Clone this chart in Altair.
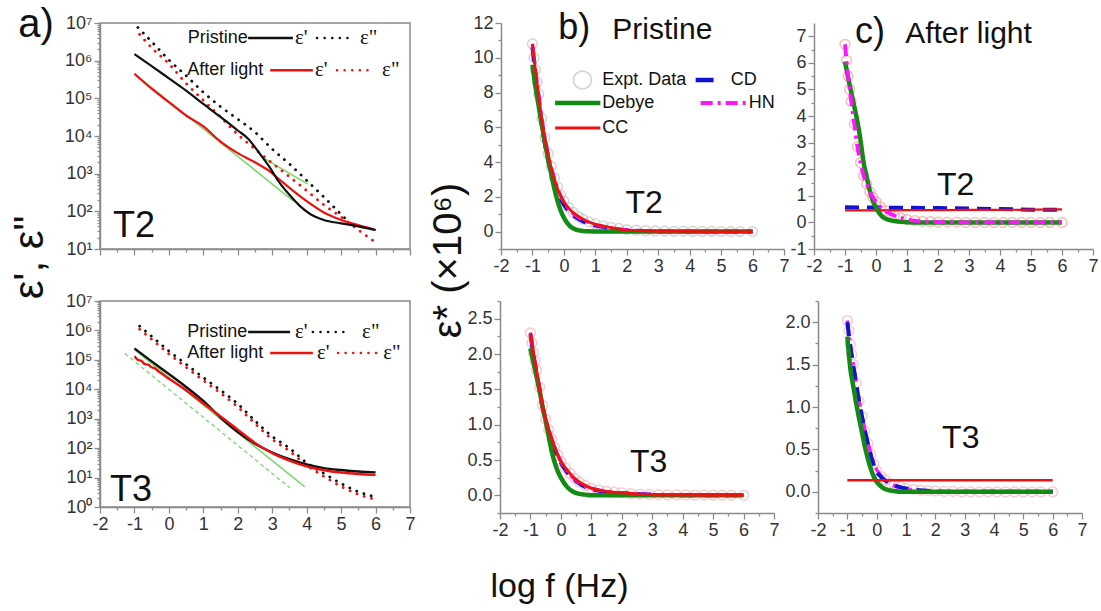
import altair as alt
import pandas as pd

FONT = "Liberation Sans"
SERIF = "Liberation Serif"

# ---------------- data: panel a (T2, top) ----------------
A2_E1_PRIS_X = [-1.0, -0.5, 0.0, 0.5, 1.0, 1.5, 2.0, 2.3, 2.6, 2.9, 3.2, 3.5, 3.8, 4.1, 4.5, 5.0, 5.5, 6.0]
A2_E1_PRIS = [1.5e6, 7.2e5, 3.4e5, 1.6e5, 7.1e4, 3.2e4, 1.4e4, 8.5e3, 3.8e3, 1.6e3, 600, 275, 140, 85, 59, 48, 40, 32]
A2_E1_LIGHT_X = [-1.0, -0.5, 0.0, 0.5, 1.0, 1.5, 2.0, 2.5, 2.9, 3.2, 3.6, 4.0, 4.5, 5.0, 5.5, 6.0]
A2_E1_LIGHT = [4.5e5, 1.8e5, 7.9e4, 3.5e4, 1.8e4, 7.1e3, 3.5e3, 2.0e3, 1.2e3, 710, 355, 186, 93, 59, 43, 32]
A2_E2_PRIS_X = [-0.9, -0.5, 0.0, 0.5, 1.0, 1.5, 2.0, 2.5, 3.0, 3.5, 4.0, 4.5, 5.0, 5.2]
A2_E2_PRIS = [7.6e6, 3.2e6, 1.05e6, 4.0e5, 1.45e5, 6.0e4, 2.8e4, 1.26e4, 4.5e3, 1.8e3, 660, 240, 83, 55]
A2_E2_LIGHT_X = [-0.85, -0.5, 0.0, 0.5, 1.0, 1.5, 2.0, 2.5, 3.0, 3.5, 4.0, 4.5, 5.0, 5.5, 6.0]
A2_E2_LIGHT = [5.0e6, 2.2e6, 8.3e5, 2.5e5, 8.9e4, 3.2e4, 1.1e4, 4.5e3, 1.9e3, 830, 355, 148, 71, 32, 15]
A2_FIT1_X = [-1.0, 3.62]
A2_FIT1 = [4.5e5, 186]
A2_FIT2_X = [2.75, 4.03]
A2_FIT2 = [2.6e3, 525]

# ---------------- data: panel a (T3, bottom) ----------------
A3_E1_PRIS_X = [-1.0, -0.5, 0.0, 0.5, 1.0, 1.5, 2.0, 2.5, 3.0, 3.5, 4.0, 4.5, 5.0, 5.5, 6.0]
A3_E1_PRIS = [2.45e5, 8.9e4, 3.3e4, 1.2e4, 4.0e3, 1.1e3, 355, 141, 71, 42, 28, 21, 18, 16, 15]
A3_E1_LIGHT_X = [-1.0, -0.9, -0.8, -0.7, -0.6, -0.5, -0.4, -0.3, -0.2, -0.1, 0.0, 0.5, 1.0, 1.5,
                 2.0, 2.5, 3.0, 3.5, 4.0, 4.5, 5.0, 5.5, 6.0]
A3_E1_LIGHT = [1.32e5, 1.0e5, 9.3e4, 7.2e4, 6.9e4, 5.6e4, 5.1e4, 4.0e4, 3.4e4, 2.75e4, 2.3e4, 9.3e3,
               3.3e3, 1.2e3, 427, 151, 68, 38, 24, 17.8, 14.8, 13.2, 12.3]
A3_E2_X = [-0.85, -0.5, 0.0, 0.5, 1.0, 1.5, 2.0, 2.5, 3.0, 3.5, 4.0, 4.5, 5.0, 5.5, 6.0]
A3_E2_PRIS = [1.4e6, 6.3e5, 2.0e5, 7.1e4, 2.5e4, 9.3e3, 3.2e3, 850, 250, 100, 32, 13.8, 6.3, 3.3, 2.2]
A3_E2_LIGHT = [1.1e6, 5.0e5, 1.6e5, 5.6e4, 2.0e4, 7.4e3, 2.5e3, 680, 200, 80, 26, 11, 5.0, 2.7, 1.8]
A3_FIT1_X = [-1.0, 3.94]
A3_FIT1 = [2.2e5, 4.9]
A3_FIT2_X = [-1.28, 3.51]
A3_FIT2 = [1.66e5, 4.5]

# ---------------- data: panels b, c (eps* x 10^6) ----------------
FIT_X = [-1.0, -0.9, -0.8, -0.7, -0.6, -0.5, -0.4, -0.3, -0.2, -0.1, 0.0, 0.2, 0.4, 0.6, 0.8, 1.0,
         1.3, 1.6, 2.0, 2.5, 3.0, 4.0, 5.0, 6.0]
DATA_X = [-1.0, -0.95, -0.9, -0.85, -0.8, -0.7, -0.6, -0.5, -0.4, -0.3, -0.2, -0.1, 0.0, 0.15, 0.3,
          0.45, 0.6, 0.8, 1.0, 1.25, 1.5, 1.75, 2.0, 2.3, 2.6, 2.9, 3.2, 3.5, 3.8, 4.1, 4.4, 4.7,
          5.0, 5.3, 5.6, 6.0]

# b) Pristine, T2
B2_DATA = [10.8, 10.0, 9.3, 8.6, 7.9, 6.5, 5.4, 4.5, 3.75, 3.1, 2.55, 2.1, 1.75, 1.38, 1.1, 0.88,
           0.72, 0.56, 0.44, 0.33, 0.25, 0.18, 0.12, 0.08, 0.05, 0.04, 0.03, 0.02, 0.02, 0.01,
           0.01, 0.01, 0.0, 0.0, 0.0, 0.0]
B2_CC = [10.8, 9.2, 7.8, 6.4, 5.3, 4.4, 3.65, 3.0, 2.45, 2.05, 1.72, 1.25, 0.95, 0.72, 0.55, 0.42,
         0.3, 0.2, 0.08, 0.04, 0.02, 0.01, 0.0, 0.0]
B2_HN = [10.8, 9.3, 7.9, 6.5, 5.4, 4.5, 3.7, 3.05, 2.5, 2.05, 1.7, 1.2, 0.9, 0.68, 0.52, 0.4,
         0.28, 0.18, 0.09, 0.04, 0.02, 0.01, 0.0, 0.0]
B2_CD = [10.6, 9.0, 7.5, 6.1, 5.0, 4.1, 3.35, 2.75, 2.25, 1.85, 1.55, 1.1, 0.8, 0.6, 0.45, 0.35,
         0.25, 0.16, 0.08, 0.03, 0.01, 0.0, 0.0, 0.0]
B2_DEBYE = [9.6, 8.3, 7.2, 6.1, 5.1, 4.15, 3.3, 2.45, 1.75, 1.2, 0.8, 0.3, 0.1, 0.04, 0.02, 0.01,
            0.0, 0.0, 0.0, 0.0, 0.0, 0.0, 0.0, 0.0]

# b) Pristine, T3
B3_DATA = [2.3, 2.16, 2.02, 1.9, 1.77, 1.53, 1.27, 1.08, 0.93, 0.8, 0.68, 0.57, 0.48, 0.39, 0.31,
           0.24, 0.19, 0.14, 0.1, 0.075, 0.055, 0.045, 0.035, 0.025, 0.018, 0.012, 0.01, 0.008,
           0.006, 0.005, 0.004, 0.003, 0.002, 0.002, 0.001, 0.001]
B3_CC = [2.3, 2.02, 1.77, 1.53, 1.26, 1.08, 0.93, 0.8, 0.68, 0.57, 0.48, 0.36, 0.26, 0.19, 0.14,
         0.1, 0.07, 0.05, 0.035, 0.02, 0.01, 0.005, 0.0, 0.0]
B3_HN = [2.3, 2.0, 1.75, 1.52, 1.27, 1.09, 0.94, 0.8, 0.68, 0.57, 0.48, 0.35, 0.25, 0.18, 0.13,
         0.1, 0.07, 0.05, 0.03, 0.02, 0.01, 0.0, 0.0, 0.0]
B3_CD = [2.28, 1.98, 1.72, 1.48, 1.24, 1.06, 0.9, 0.77, 0.65, 0.55, 0.46, 0.33, 0.24, 0.17, 0.12,
         0.09, 0.06, 0.04, 0.03, 0.02, 0.01, 0.0, 0.0, 0.0]
B3_DEBYE = [2.08, 1.88, 1.68, 1.48, 1.25, 1.05, 0.84, 0.62, 0.46, 0.34, 0.25, 0.12, 0.05, 0.02,
            0.01, 0.0, 0.0, 0.0, 0.0, 0.0, 0.0, 0.0, 0.0, 0.0]

# c) After light, T2
C2_DATA = [6.7, 6.1, 5.5, 5.0, 4.55, 3.7, 2.85, 2.25, 1.75, 1.45, 1.15, 0.95, 0.78, 0.58, 0.44,
           0.33, 0.25, 0.17, 0.11, 0.07, 0.04, 0.025, 0.015, 0.01, 0.01, 0.0, 0.0, 0.0, 0.0,
           0.0, 0.0, 0.0, 0.0, 0.0, 0.0, 0.0]
C2_HN = [6.7, 5.5, 4.55, 3.7, 2.85, 2.25, 1.75, 1.45, 1.15, 0.95, 0.78, 0.52, 0.36, 0.25, 0.17,
         0.11, 0.06, 0.03, 0.01, 0.0, 0.0, 0.0, 0.0, 0.0]
C2_DEBYE = [6.05, 5.45, 4.9, 4.35, 3.8, 3.1, 2.25, 1.7, 1.2, 0.82, 0.55, 0.22, 0.1, 0.05, 0.02,
            0.01, 0.0, 0.0, 0.0, 0.0, 0.0, 0.0, 0.0, 0.0]
FLAT_X = [-1.0, 0.0, 1.0, 2.0, 3.0, 4.0, 5.0, 6.0]
C2_CD = [0.57, 0.56, 0.55, 0.54, 0.52, 0.5, 0.48, 0.47]
C2_CC = [0.45, 0.45, 0.46, 0.46, 0.47, 0.47, 0.48, 0.49]

# c) After light, T3
C3_DATA = [2.02, 1.9, 1.74, 1.62, 1.5, 1.28, 1.07, 0.89, 0.72, 0.57, 0.44, 0.33, 0.25, 0.18, 0.14,
           0.1, 0.08, 0.06, 0.04, 0.03, 0.02, 0.015, 0.01, 0.005, 0.005, 0.0, 0.0, 0.0, 0.0,
           0.0, 0.0, 0.0, 0.0, 0.0, 0.0, 0.0]
C3_CD = [2.0, 1.72, 1.5, 1.28, 1.07, 0.89, 0.72, 0.57, 0.43, 0.32, 0.24, 0.16, 0.11, 0.075,
         0.055, 0.04, 0.025, 0.015, 0.005, 0.0, 0.0, 0.0, 0.0, 0.0]
C3_HN = [2.02, 1.74, 1.51, 1.29, 1.08, 0.9, 0.73, 0.58, 0.45, 0.34, 0.26, 0.17, 0.11, 0.07, 0.05,
         0.03, 0.02, 0.01, 0.0, 0.0, 0.0, 0.0, 0.0, 0.0]
C3_DEBYE = [1.83, 1.46, 1.25, 1.05, 0.87, 0.7, 0.53, 0.39, 0.27, 0.18, 0.12, 0.05, 0.02, 0.01,
            0.0, 0.0, 0.0, 0.0, 0.0, 0.0, 0.0, 0.0, 0.0, 0.0]
C3_CC_X = [-1.0, 6.0]
C3_CC = [0.135, 0.135]

# ---------------- styles ----------------
BLACK = "#111111"
RED = "#ee1111"
LGREEN = "#79d96a"
DGREEN = "#138a13"
BLUE = "#1212d0"
MAGENTA = "#ff14ff"
DOT = [0.1, 7.5]

# ---------------- axis helpers ----------------
X_TICKS = [v / 2 for v in range(-4, 15)]
MINOR_HALF = "abs(datum.value - round(datum.value)) > 0.01"
INT_LABEL = ("abs(datum.value - round(datum.value)) > 0.01 ? '' : "
             "(datum.value < 0 ? '-' + abs(datum.value) : '' + datum.value)")
LOG_MINOR = "abs(log(datum.value) / LN10 - round(log(datum.value) / LN10)) > 0.01"
LOG_LABEL = ("(" + LOG_MINOR + ") ? '' : '10' + ['⁰','¹','²','³','⁴','⁵','⁶','⁷']"
             "[round(log(datum.value) / LN10)]")
QUART_MINOR = "abs(datum.value * 2 - round(datum.value * 2)) > 0.01"
QUART_LABEL = "(" + QUART_MINOR + ") || datum.value < 0 ? '' : format(datum.value, '.1f')"


def tsize(test):
    return {"condition": {"test": test, "value": 3}, "value": 6}


def x_axis(labels=True, title=None, **kw):
    return alt.Axis(values=X_TICKS, labels=labels, labelExpr=INT_LABEL, tickSize=tsize(MINOR_HALF),
                    labelFlush=False, labelOverlap=False, title=title, **kw)


def log_ticks(lo, hi):
    vals = [m * 10 ** e for e in range(lo, hi) for m in range(1, 10)]
    return vals + [10 ** hi]


# ---------------- mark helpers ----------------
def enc(xs, xa, ys, ya):
    return dict(x=alt.X("x:Q", scale=xs, axis=xa), y=alt.Y("y:Q", scale=ys, axis=ya))


def line(E, xs, ys, color, width, dash=None, cap="butt", interp="monotone"):
    kw = dict(color=color, strokeWidth=width, strokeCap=cap, interpolate=interp)
    if dash:
        kw["strokeDash"] = dash
    return alt.Chart(pd.DataFrame({"x": xs, "y": ys})).mark_line(**kw).encode(**E)


def rule(E, x1, x2, y, color, width, dash=None, cap="butt"):
    kw = dict(color=color, strokeWidth=width, strokeCap=cap)
    if dash:
        kw["strokeDash"] = dash
    df = pd.DataFrame({"x": [x1], "x2": [x2], "y": [y]})
    return alt.Chart(df).mark_rule(**kw).encode(x=E["x"], x2="x2:Q", y=E["y"])


def text(E, x, y, s, size, align="left", baseline="middle", font=FONT, color=BLACK):
    df = pd.DataFrame({"x": [x], "y": [y], "t": [s]})
    return alt.Chart(df).mark_text(align=align, baseline=baseline, fontSize=size, font=font,
                                   color=color).encode(x=E["x"], y=E["y"], text="t:N")


def circles(E, xs, ys, color, size=95, sw=1.5):
    return alt.Chart(pd.DataFrame({"x": xs, "y": ys})).mark_point(
        shape="circle", filled=False, size=size, color=color, strokeWidth=sw).encode(**E)


def a_legend(E, y1, y2, xs):
    (p_txt, p_l1, p_l2, p_e1, p_d1, p_d2, p_e2,
     a_txt, a_l1, a_l2, a_e1, a_d1, a_d2, a_e2) = xs
    return [
        text(E, p_txt, y1, "Pristine", 18),
        rule(E, p_l1, p_l2, y1, BLACK, 2.5),
        text(E, p_e1, y1, "ε'", 21, font=SERIF),
        rule(E, p_d1, p_d2, y1, BLACK, 2.5, dash=DOT, cap="round"),
        text(E, p_e2, y1, "ε\"", 21, font=SERIF),
        text(E, a_txt, y2, "After light", 18),
        rule(E, a_l1, a_l2, y2, RED, 2.5),
        text(E, a_e1, y2, "ε'", 21, font=SERIF),
        rule(E, a_d1, a_d2, y2, RED, 2.5, dash=DOT, cap="round"),
        text(E, a_e2, y2, "ε\"", 21, font=SERIF),
    ]


BOX = alt.ViewBackground(stroke="#8a8a8a", strokeWidth=1.5)
NOBOX = alt.ViewBackground(stroke="transparent")

# ---------------- panel a, top ----------------
E = enc(alt.Scale(domain=[-2, 7], nice=False), x_axis(labels=False),
        alt.Scale(type="log", domain=[10, 1e7], nice=False),
        alt.Axis(values=log_ticks(1, 7), labelExpr=LOG_LABEL, tickSize=tsize(LOG_MINOR),
                 labelOverlap=False, title="ε', ε\"", titleX=-71, titleY=234, titleAngle=270,
                 titleAlign="center", titleBaseline="middle", titleFontSize=42))
a_top = alt.layer(
    line(E, A2_FIT1_X, A2_FIT1, LGREEN, 1.5, interp="linear"),
    line(E, A2_FIT2_X, A2_FIT2, LGREEN, 1.5, interp="linear"),
    line(E, A2_E2_PRIS_X, A2_E2_PRIS, BLACK, 2.8, dash=DOT, cap="round"),
    line(E, A2_E2_LIGHT_X, A2_E2_LIGHT, RED, 2.8, dash=DOT, cap="round"),
    line(E, A2_E1_LIGHT_X, A2_E1_LIGHT, RED, 2.2),
    line(E, A2_E1_PRIS_X, A2_E1_PRIS, BLACK, 2.2),
    *a_legend(E, 4.0e6, 5.6e5, [0.55, 2.30, 3.60, 3.66, 4.30, 5.20, 5.55,
                                0.53, 2.94, 4.18, 4.24, 4.88, 5.90, 6.19]),
    text(E, -1.62, 42, "T2", 36),
    text(E, -3.86, 8.9e6, "a)", 40, align="center"),
).properties(width=310, height=226, view=BOX)

# ---------------- panel a, bottom ----------------
E = enc(alt.Scale(domain=[-2, 7], nice=False), x_axis(),
        alt.Scale(type="log", domain=[1, 1e7], nice=False),
        alt.Axis(values=log_ticks(0, 7), labelExpr=LOG_LABEL, tickSize=tsize(LOG_MINOR),
                 labelOverlap=False, title=None))
a_bot = alt.layer(
    line(E, A3_FIT2_X, A3_FIT2, LGREEN, 1.3, dash=[4, 3], interp="linear"),
    line(E, A3_FIT1_X, A3_FIT1, LGREEN, 1.5, interp="linear"),
    line(E, A3_E2_X, A3_E2_PRIS, BLACK, 2.8, dash=DOT, cap="round"),
    line(E, A3_E2_X, A3_E2_LIGHT, RED, 2.8, dash=DOT, cap="round"),
    line(E, A3_E1_PRIS_X, A3_E1_PRIS, BLACK, 2.4),
    line(E, A3_E1_LIGHT_X, A3_E1_LIGHT, RED, 2.4),
    *a_legend(E, 8.9e5, 1.7e5, [0.53, 2.30, 3.52, 3.66, 4.18, 5.26, 5.61,
                                0.53, 2.94, 4.18, 4.30, 4.91, 6.04, 6.22]),
    text(E, -1.71, 3.8, "T3", 36),
).properties(width=310, height=206, view=BOX)

# ---------------- panel b, top ----------------
E = enc(alt.Scale(domain=[-2, 7], range=[61, 344], nice=False), x_axis(),
        alt.Scale(domain=[-1, 12], nice=False, zero=False),
        alt.Axis(values=list(range(-1, 13)),
                 labelExpr="datum.value < 0 || datum.value % 2 != 0 ? '' : '' + datum.value",
                 tickSize=tsize("datum.value % 2 != 0"), labelOverlap=False, offset=-61,
                 title="ε* (×10⁶)", titleX=-53, titleY=237, titleAngle=270, titleAlign="center",
                 titleBaseline="middle", titleFontSize=40))
b_top = alt.layer(
    circles(E, DATA_X, B2_DATA, "#c4c4c4"),
    line(E, FIT_X, B2_CD, BLUE, 4, dash=[14, 8]),
    line(E, FIT_X, B2_HN, MAGENTA, 3.5, dash=[12, 5, 3, 5]),
    line(E, FIT_X, B2_DEBYE, DGREEN, 4.5),
    line(E, FIT_X, B2_CC, RED, 2.8),
    circles(E, [0.59], [8.72], "#c4c4c4", size=320, sw=1.8),
    text(E, 1.22, 8.72, "Expt. Data", 18),
    rule(E, 4.19, 4.76, 8.72, BLUE, 4.5),
    text(E, 5.31, 8.72, "CD", 18),
    rule(E, -0.28, 1.16, 7.4, DGREEN, 4.5),
    text(E, 1.22, 7.4, "Debye", 18),
    rule(E, 4.35, 5.85, 7.4, MAGENTA, 4, dash=[12, 5, 3, 5]),
    text(E, 5.88, 7.4, "HN", 18),
    rule(E, -0.28, 1.16, 5.96, RED, 2.8),
    text(E, 1.22, 5.96, "CC", 18),
    text(E, 1.96, 1.07, "T2", 32, baseline="alphabetic"),
    text(E, -0.18, 11.08, "b)", 36, baseline="alphabetic"),
    text(E, 1.54, 11.08, "Pristine", 30, baseline="alphabetic"),
).properties(width=344, height=226, view=NOBOX)

# ---------------- panel b, bottom ----------------
E = enc(alt.Scale(domain=[-2, 7], range=[60, 334], nice=False),
        x_axis(title="log f (Hz)", titleX=119, titleY=83, titleAlign="center",
               titleBaseline="alphabetic", titleFontSize=34),
        alt.Scale(domain=[-0.25, 2.75], nice=False, zero=False),
        alt.Axis(values=[v / 4 for v in range(-1, 12)], labelExpr=QUART_LABEL,
                 tickSize=tsize(QUART_MINOR), labelOverlap=False, offset=-60, title=None))
b_bot = alt.layer(
    circles(E, DATA_X, B3_DATA, "#f4b4bc"),
    line(E, FIT_X, B3_CD, BLUE, 4, dash=[14, 8]),
    line(E, FIT_X, B3_HN, MAGENTA, 3.5, dash=[12, 5, 3, 5]),
    line(E, FIT_X, B3_DEBYE, DGREEN, 4.5),
    line(E, FIT_X, B3_CC, RED, 3),
    text(E, 2.27, 0.33, "T3", 32, baseline="alphabetic"),
).properties(width=334, height=212, view=NOBOX)

# ---------------- panel c, top ----------------
E = enc(alt.Scale(domain=[-2, 7], nice=False), x_axis(),
        alt.Scale(domain=[-1, 7.5], nice=False, zero=False),
        alt.Axis(values=[v / 2 for v in range(-2, 15)], labelExpr=INT_LABEL,
                 tickSize=tsize(MINOR_HALF), labelOverlap=False, title=None))
c_top = alt.layer(
    circles(E, DATA_X, C2_DATA, "#f2a49c"),
    line(E, FLAT_X, C2_CD, BLUE, 4, dash=[14, 8], interp="linear"),
    line(E, FLAT_X, C2_CC, RED, 2.2, interp="linear"),
    line(E, FIT_X, C2_DEBYE, DGREEN, 4.5),
    line(E, FIT_X, C2_HN, MAGENTA, 3.8, dash=[12, 5, 3, 5]),
    text(E, 1.97, 1.03, "T2", 32, baseline="alphabetic"),
    text(E, -0.68, 6.75, "c)", 36, baseline="alphabetic"),
    text(E, 0.94, 6.75, "After light", 30, baseline="alphabetic"),
).properties(width=279, height=226, view=NOBOX)

# ---------------- panel c, bottom ----------------
E = enc(alt.Scale(domain=[-2, 7], range=[4, 268], nice=False), x_axis(),
        alt.Scale(domain=[-0.25, 2.25], nice=False, zero=False),
        alt.Axis(values=[v / 4 for v in range(-1, 10)], labelExpr=QUART_LABEL,
                 tickSize=tsize(QUART_MINOR), labelOverlap=False, offset=-4, title=None))
c_bot = alt.layer(
    circles(E, DATA_X, C3_DATA, "#f5b8c2"),
    line(E, FIT_X, C3_HN, MAGENTA, 3.5, dash=[12, 5, 3, 5]),
    line(E, FIT_X, C3_CD, BLUE, 4, dash=[14, 8]),
    line(E, FIT_X, C3_DEBYE, DGREEN, 4.5),
    line(E, C3_CC_X, C3_CC, RED, 2.5, interp="linear"),
    text(E, 2.23, 0.52, "T3", 32, baseline="alphabetic"),
).properties(width=268, height=212, view=NOBOX)

chart = alt.concat(
    a_top, b_top, c_top, a_bot, b_bot, c_bot,
    columns=3, spacing={"row": 52, "column": 30}, bounds="flush",
).properties(
    autosize=alt.AutoSizeParams(type="none"),
    padding={"left": 100, "top": 23, "right": 1000, "bottom": 582},
).configure_view(stroke="transparent").configure_axis(
    labelFont=FONT, labelFontSize=18, labelColor="#333333", labelPadding=2,
    domainColor="#8a8a8a", tickColor="#8a8a8a", domainWidth=1.5, tickWidth=1.3,
    titleFont=FONT, titleColor=BLACK, titleFontWeight="normal", grid=False,
)

chart.save("out.html", embed_options={"renderer": "svg", "actions": False})
